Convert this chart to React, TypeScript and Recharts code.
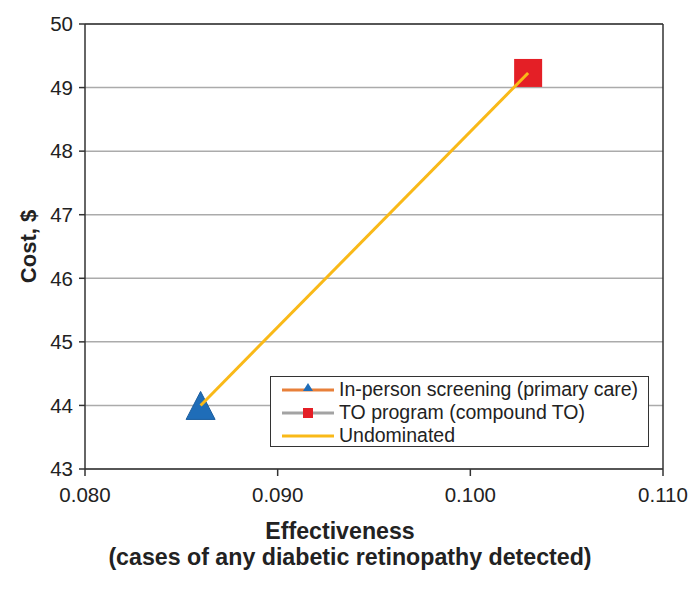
import React from "react";
import {
  ScatterChart,
  Scatter,
  XAxis,
  YAxis,
  CartesianGrid,
  ReferenceLine,
  Legend,
} from "recharts";

const FONT = '"Liberation Sans", Arial, Helvetica, sans-serif';

const inPersonData = [{ x: 0.086, y: 44.0 }];
const toProgramData = [{ x: 0.103, y: 49.23 }];
const undominatedData = [
  { x: 0.086, y: 44.0 },
  { x: 0.103, y: 49.23 },
];
const xTicks = [0.08, 0.09, 0.1, 0.11];
const yTicks = [43, 44, 45, 46, 47, 48, 49, 50];
const seriesNames = [
  "In-person screening (primary care)",
  "TO program (compound TO)",
  "Undominated",
];

const BLUE = "#1F6DB8";
const RED = "#E41F26";
const YELLOW = "#F9B918";
const ORANGE = "#E8803A";
const GRAY_LINE = "#A3A3A3";

const TriangleShape = (props: any) => {
  const { cx, cy } = props;
  const h = 28;
  const w = 29;
  return (
    <path
      d={`M${cx},${cy - h / 2} L${cx + w / 2},${cy + h / 2} L${cx - w / 2},${cy + h / 2} Z`}
      fill={BLUE}
      stroke="#1a5d9e"
      strokeWidth={1}
    />
  );
};

const SquareShape = (props: any) => {
  const { cx, cy } = props;
  const s = 28;
  return <rect x={cx - s / 2} y={cy - s / 2} width={s} height={s} fill={RED} />;
};

const NoShape = () => <g />;

const XLabel = (props: any) => {
  const { viewBox } = props;
  const cx = viewBox.x + viewBox.width / 2;
  const y0 = viewBox.y;
  return (
    <g>
      <text
        x={cx - 34}
        y={y0 + 70}
        textAnchor="middle"
        fontFamily={FONT}
        fontWeight="bold"
        fontSize={23.2}
        fill="#222"
      >
        Effectiveness
      </text>
      <text
        x={cx - 24}
        y={y0 + 96}
        textAnchor="middle"
        fontFamily={FONT}
        fontWeight="bold"
        fontSize={23.2}
        fill="#222"
      >
        (cases of any diabetic retinopathy detected)
      </text>
    </g>
  );
};

const YLabel = (props: any) => {
  const { viewBox } = props;
  const cy = viewBox.y + viewBox.height / 2;
  const x = 36;
  return (
    <text
      x={x}
      y={cy}
      transform={`rotate(-90, ${x}, ${cy})`}
      textAnchor="middle"
      fontFamily={FONT}
      fontWeight="bold"
      fontSize={22}
      fill="#222"
    >
      Cost, $
    </text>
  );
};

const LegendContent = () => {
  const rows = [
    { name: seriesNames[0], line: ORANGE, marker: "tri" },
    { name: seriesNames[1], line: GRAY_LINE, marker: "sq" },
    { name: seriesNames[2], line: YELLOW, marker: "none" },
  ];
  return (
    <div
      style={{
        width: 379,
        height: 71,
        boxSizing: "border-box",
        border: "1.5px solid #333",
        background: "#fff",
        paddingTop: 1,
        fontFamily: FONT,
        fontSize: 19.5,
        color: "#222",
      }}
    >
      {rows.map((r) => (
        <div
          key={r.name}
          style={{ height: 23, display: "flex", alignItems: "center", whiteSpace: "nowrap" }}
        >
          <svg width={68} height={23} style={{ flex: "none" }}>
            <line x1={11} x2={63} y1={12} y2={12} stroke={r.line} strokeWidth={3} />
            {r.marker === "tri" && <path d="M37,5 L42,13 L32,13 Z" fill={BLUE} />}
            {r.marker === "sq" && <rect x={32} y={7} width={10} height={10} fill={RED} />}
          </svg>
          <span>{r.name}</span>
        </div>
      ))}
    </div>
  );
};

export default function App() {
  return (
    <div style={{ position: "absolute", left: 0, top: 0, background: "#fff" }}>
      <ScatterChart
        width={696}
        height={589}
        margin={{ top: 24, right: 33, bottom: 0, left: 0 }}
      >
        <CartesianGrid
          horizontal={true}
          vertical={false}
          stroke="#ababab"
          strokeWidth={1.5}
        />
        <XAxis
          type="number"
          dataKey="x"
          domain={[0.08, 0.11]}
          ticks={xTicks}
          tickFormatter={(v: number) => v.toFixed(3)}
          height={120}
          tickSize={7}
          tickMargin={11}
          axisLine={{ stroke: "#333", strokeWidth: 1.5 }}
          tickLine={{ stroke: "#333", strokeWidth: 1.5 }}
          tick={{ fontFamily: FONT, fontSize: 20.5, fill: "#222" }}
          allowDataOverflow
          label={<XLabel />}
        />
        <YAxis
          type="number"
          dataKey="y"
          domain={[43, 50]}
          ticks={yTicks}
          width={85}
          tickSize={6}
          tickMargin={6}
          axisLine={{ stroke: "#333", strokeWidth: 1.5 }}
          tickLine={{ stroke: "#333", strokeWidth: 1.5 }}
          tick={{ fontFamily: FONT, fontSize: 20.5, fill: "#222" }}
          allowDataOverflow
          label={<YLabel />}
        />
        <ReferenceLine y={50} stroke="#333" strokeWidth={1.5} />
        <ReferenceLine x={0.11} stroke="#333" strokeWidth={1.5} />
        <Scatter
          name={seriesNames[0]}
          data={inPersonData}
          shape={<TriangleShape />}
          isAnimationActive={false}
        />
        <Scatter
          name={seriesNames[1]}
          data={toProgramData}
          shape={<SquareShape />}
          isAnimationActive={false}
        />
        <Scatter
          name={seriesNames[2]}
          data={undominatedData}
          line={{ stroke: YELLOW, strokeWidth: 3 }}
          lineType="joint"
          shape={<NoShape />}
          isAnimationActive={false}
        />
        <Legend
          layout="vertical"
          align="center"
          verticalAlign="middle"
          content={<LegendContent />}
          wrapperStyle={{ left: 270, top: 376, width: 379, height: 71 }}
        />
      </ScatterChart>
    </div>
  );
}
